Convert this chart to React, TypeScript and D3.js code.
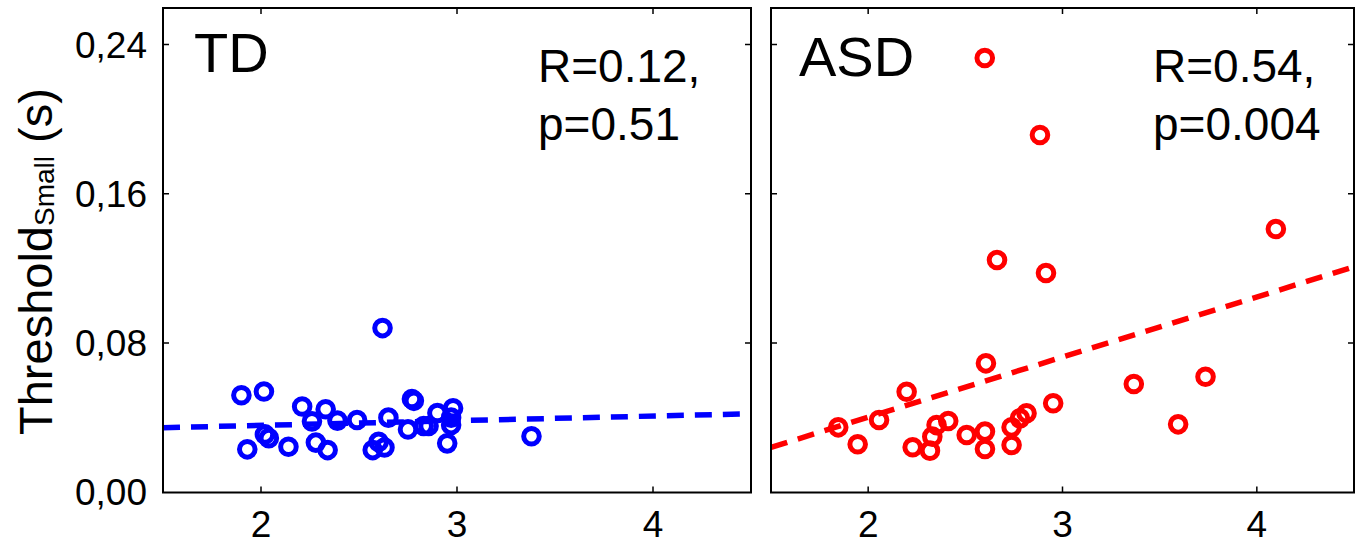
import React from 'react';
import * as d3 from 'd3';

// TD group (x, threshold)
const tdX = [1.90, 2.015, 1.93, 2.02, 2.04, 2.14, 2.21, 2.26, 2.33, 2.28, 2.34, 2.39, 2.49, 2.57, 2.60, 2.63, 2.62, 2.65, 2.77, 2.78, 2.75, 2.83, 2.855, 2.90, 2.98, 2.97, 2.97, 2.95, 3.38];
const tdY = [0.052, 0.054, 0.023, 0.031, 0.029, 0.0244, 0.046, 0.038, 0.0445, 0.0266, 0.0226, 0.0384, 0.0387, 0.0226, 0.027, 0.024, 0.088, 0.040, 0.050, 0.049, 0.0337, 0.0355, 0.0355, 0.0425, 0.045, 0.040, 0.036, 0.0262, 0.030];

// ASD group
const asdX = [2.60, 2.884, 2.663, 2.915, 4.098, 2.606, 3.367, 3.736, 3.595, 2.952, 1.846, 1.946, 2.056, 2.198, 2.229, 2.318, 2.33, 2.352, 2.412, 2.507, 2.601, 2.601, 2.738, 2.738, 2.781, 2.815];
const asdY = [0.2328, 0.1915, 0.1245, 0.1175, 0.1411, 0.0691, 0.058, 0.0619, 0.0364, 0.0477, 0.0348, 0.0257, 0.0387, 0.0539, 0.0241, 0.0223, 0.0298, 0.036, 0.0382, 0.0307, 0.0325, 0.0232, 0.0348, 0.0253, 0.0396, 0.0423];

// fitted lines, value at x = 1.5 and x = 4.5
const tdFit = [0.0346, 0.0421];
const asdFit = [0.0241, 0.1208];

const xTicks = [2, 3, 4];
const yTicks = [0, 0.08, 0.16, 0.24];
const yTickLabels = ['0,00', '0,08', '0,16', '0,24'];

const FONT = '"Liberation Sans", Arial, sans-serif';
const TOP = 8;
const BOTTOM = 492.5;
const TICK = 6;

const y = d3.scaleLinear().domain([0, 0.26]).range([492.25, 492.25 - 0.26 / 0.08 * 149.25]);

type PanelProps = {
  x0: number; x1: number; xs: number[]; ys: number[]; fit: number[];
  color: string; name: string; nameX: number; nameY: number;
  r: string; p: string; statX: number; showLabels: boolean;
};

const Panel = ({ x0, x1, xs, ys, fit, color, name, nameX, nameY, r, p, statX, showLabels }: PanelProps) => {
  const x = d3.scaleLinear().domain([1.5, 4.5]).range([x0, x1]);
  const fitLine = d3.line<number>().x((_, i) => x(i === 0 ? 1.5 : 4.5)).y((v) => y(v));
  return (
    <g>
      <defs>
        <clipPath id={'clip-' + name}>
          <rect x={x0} y={TOP} width={x1 - x0} height={BOTTOM - TOP} />
        </clipPath>
      </defs>
      <g clipPath={`url(#clip-${name})`}>
        <path d={fitLine(fit) || ''} fill="none" stroke={color} strokeWidth={5.5} strokeDasharray="17 11" />
        {xs.map((v, i) => (
          <circle key={i} cx={x(v)} cy={y(ys[i])} r={7.8} fill="none" stroke={color} strokeWidth={5} />
        ))}
      </g>
      <rect x={x0} y={TOP} width={x1 - x0} height={BOTTOM - TOP} fill="none" stroke="#000" strokeWidth={2} />
      {xTicks.map((t) => (
        <g key={'x' + t}>
          <line x1={x(t)} x2={x(t)} y1={BOTTOM} y2={BOTTOM - TICK} stroke="#000" strokeWidth={1.5} />
          <line x1={x(t)} x2={x(t)} y1={TOP} y2={TOP + TICK} stroke="#000" strokeWidth={1.5} />
          <text x={x(t)} y={537} textAnchor="middle" fontSize={37} fontFamily={FONT}>{t}</text>
        </g>
      ))}
      {yTicks.map((t, i) => (
        <g key={'y' + t}>
          {t > 0 && <line x1={x0} x2={x0 + TICK} y1={y(t)} y2={y(t)} stroke="#000" strokeWidth={1.5} />}
          {t > 0 && <line x1={x1} x2={x1 - TICK} y1={y(t)} y2={y(t)} stroke="#000" strokeWidth={1.5} />}
          {showLabels && (
            <text x={147} y={y(t) + 13} textAnchor="end" fontSize={37} fontFamily={FONT}>{yTickLabels[i]}</text>
          )}
        </g>
      ))}
      <text x={nameX} y={nameY} fontSize={56} fontFamily={FONT}>{name}</text>
      <text x={statX} y={82} fontSize={46} fontFamily={FONT}>{r}</text>
      <text x={statX} y={140} fontSize={46} fontFamily={FONT}>{p}</text>
    </g>
  );
};

export default function App() {
  return (
    <svg width={1356} height={544} style={{ position: 'absolute', left: 0, top: 0, background: '#fff' }}>
      <rect width={1356} height={544} fill="#fff" />
      <Panel x0={163} x1={751} xs={tdX} ys={tdY} fit={tdFit} color="#0000ff" name="TD" nameX={194} nameY={72}
        r="R=0.12," p="p=0.51" statX={538} showLabels={true} />
      <Panel x0={771} x1={1354} xs={asdX} ys={asdY} fit={asdFit} color="#ff0000" name="ASD" nameX={799} nameY={76}
        r="R=0.54," p="p=0.004" statX={1153} showLabels={false} />
      <text transform="translate(52,435) rotate(-90)" fontSize={47} fontFamily={FONT}>
        Threshold<tspan fontSize={28} dy={2}>Small</tspan><tspan dy={-2}> (s)</tspan>
      </text>
    </svg>
  );
}
